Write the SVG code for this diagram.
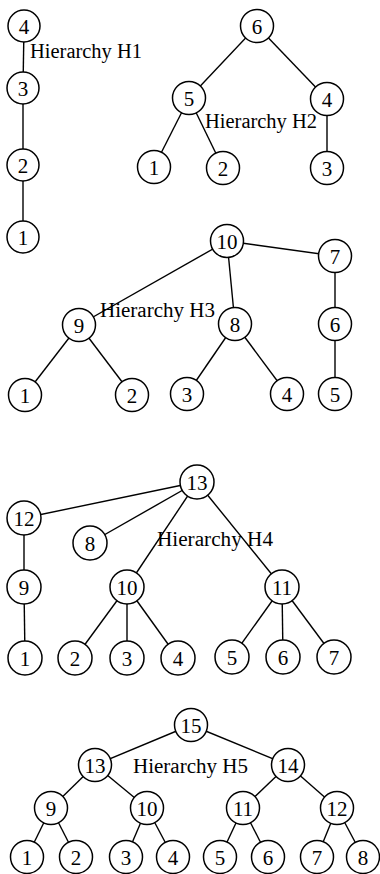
<svg xmlns="http://www.w3.org/2000/svg" width="380" height="874" viewBox="0 0 380 874">
<style>
.e{stroke:#000;stroke-width:1.4;fill:none}
.n circle{fill:#fff;stroke:#000;stroke-width:1.5}
.n text{font-family:"Liberation Serif","Times New Roman",serif;font-size:21px;text-anchor:middle;fill:#000}
.lbl{font-family:"Liberation Serif","Times New Roman",serif;font-size:20px;fill:#000}
</style>
<rect width="380" height="874" fill="#fff"/>
<g id="connectors" class="e">
<!-- H1 -->
<line x1="24" y1="26" x2="23" y2="88"/>
<line x1="23" y1="88" x2="23" y2="165"/>
<line x1="23" y1="165" x2="23" y2="237"/>
<!-- H2 -->
<line x1="257" y1="26" x2="189" y2="98"/>
<line x1="257" y1="26" x2="327" y2="99"/>
<line x1="189" y1="98" x2="154" y2="167"/>
<line x1="189" y1="98" x2="223" y2="168"/>
<line x1="327" y1="99" x2="327" y2="168"/>
<!-- H3 -->
<line x1="227" y1="241" x2="79" y2="325"/>
<line x1="227" y1="241" x2="235" y2="324"/>
<line x1="227" y1="241" x2="335" y2="256"/>
<line x1="335" y1="256" x2="335" y2="324"/>
<line x1="335" y1="324" x2="335" y2="394"/>
<line x1="79" y1="325" x2="25" y2="395"/>
<line x1="79" y1="325" x2="132" y2="395"/>
<line x1="235" y1="324" x2="187" y2="394"/>
<line x1="235" y1="324" x2="287" y2="394"/>
<!-- H4 -->
<line x1="197" y1="482" x2="24" y2="518"/>
<line x1="197" y1="482" x2="90" y2="543"/>
<line x1="197" y1="482" x2="127" y2="587"/>
<line x1="197" y1="482" x2="282" y2="587"/>
<line x1="24" y1="518" x2="24" y2="587"/>
<line x1="24" y1="587" x2="25" y2="658"/>
<line x1="127" y1="587" x2="75" y2="658"/>
<line x1="127" y1="587" x2="127" y2="658"/>
<line x1="127" y1="587" x2="178" y2="658"/>
<line x1="282" y1="587" x2="232" y2="657"/>
<line x1="282" y1="587" x2="283" y2="657"/>
<line x1="282" y1="587" x2="334" y2="657"/>
<!-- H5 -->
<line x1="191" y1="725" x2="95" y2="765"/>
<line x1="191" y1="725" x2="288" y2="765"/>
<line x1="95" y1="765" x2="51" y2="808"/>
<line x1="95" y1="765" x2="147" y2="808"/>
<line x1="288" y1="765" x2="243" y2="808"/>
<line x1="288" y1="765" x2="337" y2="808"/>
<line x1="51" y1="808" x2="27" y2="857"/>
<line x1="51" y1="808" x2="76" y2="857"/>
<line x1="147" y1="808" x2="126" y2="857"/>
<line x1="147" y1="808" x2="173" y2="857"/>
<line x1="243" y1="808" x2="220" y2="857"/>
<line x1="243" y1="808" x2="268" y2="857"/>
<line x1="337" y1="808" x2="317" y2="857"/>
<line x1="337" y1="808" x2="363" y2="857"/>
</g>
<!-- H1 nodes -->
<g id="h1-4" class="n"><circle cx="24" cy="26" r="16"/><text x="24" y="33.5">4</text></g>
<g id="h1-3" class="n"><circle cx="23" cy="88" r="16"/><text x="23" y="95.5">3</text></g>
<g id="h1-2" class="n"><circle cx="23" cy="165" r="16"/><text x="23" y="172.5">2</text></g>
<g id="h1-1" class="n"><circle cx="23" cy="237" r="16"/><text x="23" y="244.5">1</text></g>
<!-- H2 nodes -->
<g id="h2-6" class="n"><circle cx="257" cy="26" r="16.5"/><text x="257" y="33.5">6</text></g>
<g id="h2-5" class="n"><circle cx="189" cy="98" r="16.5"/><text x="189" y="105.5">5</text></g>
<g id="h2-4" class="n"><circle cx="327" cy="99" r="16.5"/><text x="327" y="106.5">4</text></g>
<g id="h2-1" class="n"><circle cx="154" cy="167" r="16.5"/><text x="154" y="174.5">1</text></g>
<g id="h2-2" class="n"><circle cx="223" cy="168" r="16.5"/><text x="223" y="175.5">2</text></g>
<g id="h2-3" class="n"><circle cx="327" cy="168" r="16.5"/><text x="327" y="175.5">3</text></g>
<!-- H3 nodes -->
<g id="h3-10" class="n"><circle cx="227" cy="241" r="16.5"/><text x="227" y="248.5">10</text></g>
<g id="h3-7" class="n"><circle cx="335" cy="256" r="16.5"/><text x="335" y="263.5">7</text></g>
<g id="h3-9" class="n"><circle cx="79" cy="325" r="16.5"/><text x="79" y="332.5">9</text></g>
<g id="h3-8" class="n"><circle cx="235" cy="324" r="16.5"/><text x="235" y="331.5">8</text></g>
<g id="h3-6" class="n"><circle cx="335" cy="324" r="16.5"/><text x="335" y="331.5">6</text></g>
<g id="h3-1" class="n"><circle cx="25" cy="395" r="16.5"/><text x="25" y="402.5">1</text></g>
<g id="h3-2" class="n"><circle cx="132" cy="395" r="16.5"/><text x="132" y="402.5">2</text></g>
<g id="h3-3" class="n"><circle cx="187" cy="394" r="16.5"/><text x="187" y="401.5">3</text></g>
<g id="h3-4" class="n"><circle cx="287" cy="394" r="16.5"/><text x="287" y="401.5">4</text></g>
<g id="h3-5" class="n"><circle cx="335" cy="394" r="16.5"/><text x="335" y="401.5">5</text></g>
<!-- H4 nodes -->
<g id="h4-13" class="n"><circle cx="197" cy="482" r="17"/><text x="197" y="489.5">13</text></g>
<g id="h4-12" class="n"><circle cx="24" cy="518" r="17"/><text x="24" y="525.5">12</text></g>
<g id="h4-8" class="n"><circle cx="90" cy="543" r="17"/><text x="90" y="550.5">8</text></g>
<g id="h4-9" class="n"><circle cx="24" cy="587" r="17"/><text x="24" y="594.5">9</text></g>
<g id="h4-10" class="n"><circle cx="127" cy="587" r="17"/><text x="127" y="594.5">10</text></g>
<g id="h4-11" class="n"><circle cx="282" cy="587" r="17"/><text x="282" y="594.5">11</text></g>
<g id="h4-1" class="n"><circle cx="25" cy="658" r="17"/><text x="25" y="665.5">1</text></g>
<g id="h4-2" class="n"><circle cx="75" cy="658" r="17"/><text x="75" y="665.5">2</text></g>
<g id="h4-3" class="n"><circle cx="127" cy="658" r="17"/><text x="127" y="665.5">3</text></g>
<g id="h4-4" class="n"><circle cx="178" cy="658" r="17"/><text x="178" y="665.5">4</text></g>
<g id="h4-5" class="n"><circle cx="232" cy="657" r="17"/><text x="232" y="664.5">5</text></g>
<g id="h4-6" class="n"><circle cx="283" cy="657" r="17"/><text x="283" y="664.5">6</text></g>
<g id="h4-7" class="n"><circle cx="334" cy="657" r="17"/><text x="334" y="664.5">7</text></g>
<!-- H5 nodes -->
<g id="h5-15" class="n"><circle cx="191" cy="725" r="16.5"/><text x="191" y="732.5">15</text></g>
<g id="h5-13" class="n"><circle cx="95" cy="765" r="16.5"/><text x="95" y="772.5">13</text></g>
<g id="h5-14" class="n"><circle cx="288" cy="765" r="16.5"/><text x="288" y="772.5">14</text></g>
<g id="h5-9" class="n"><circle cx="51" cy="808" r="16.5"/><text x="51" y="815.5">9</text></g>
<g id="h5-10" class="n"><circle cx="147" cy="808" r="16.5"/><text x="147" y="815.5">10</text></g>
<g id="h5-11" class="n"><circle cx="243" cy="808" r="16.5"/><text x="243" y="815.5">11</text></g>
<g id="h5-12" class="n"><circle cx="337" cy="808" r="16.5"/><text x="337" y="815.5">12</text></g>
<g id="h5-1" class="n"><circle cx="27" cy="857" r="16.5"/><text x="27" y="864.5">1</text></g>
<g id="h5-2" class="n"><circle cx="76" cy="857" r="16.5"/><text x="76" y="864.5">2</text></g>
<g id="h5-3" class="n"><circle cx="126" cy="857" r="16.5"/><text x="126" y="864.5">3</text></g>
<g id="h5-4" class="n"><circle cx="173" cy="857" r="16.5"/><text x="173" y="864.5">4</text></g>
<g id="h5-5" class="n"><circle cx="220" cy="857" r="16.5"/><text x="220" y="864.5">5</text></g>
<g id="h5-6" class="n"><circle cx="268" cy="857" r="16.5"/><text x="268" y="864.5">6</text></g>
<g id="h5-7" class="n"><circle cx="317" cy="857" r="16.5"/><text x="317" y="864.5">7</text></g>
<g id="h5-8" class="n"><circle cx="363" cy="857" r="16.5"/><text x="363" y="864.5">8</text></g>
<!-- labels -->
<g id="labels">
<text class="lbl" x="30" y="58" textLength="112" lengthAdjust="spacingAndGlyphs">Hierarchy H1</text>
<text class="lbl" x="205" y="128" textLength="112" lengthAdjust="spacingAndGlyphs">Hierarchy H2</text>
<text class="lbl" x="100" y="317" textLength="115" lengthAdjust="spacingAndGlyphs">Hierarchy H3</text>
<text class="lbl" x="157" y="546" textLength="116" lengthAdjust="spacingAndGlyphs">Hierarchy H4</text>
<text class="lbl" x="133" y="773" textLength="115" lengthAdjust="spacingAndGlyphs">Hierarchy H5</text>
</g>
</svg>
